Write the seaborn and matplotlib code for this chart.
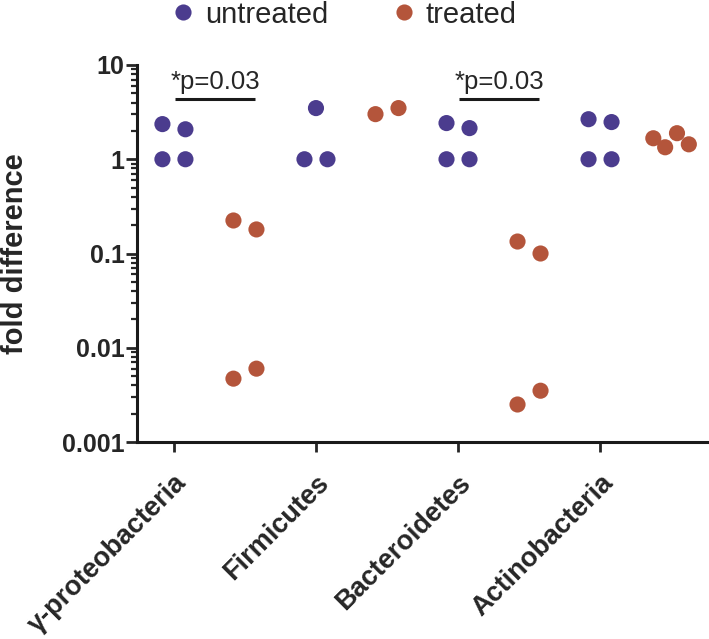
import numpy as np
import pandas as pd
import matplotlib
matplotlib.use('Agg')
import matplotlib.pyplot as plt
import matplotlib.transforms as mtransforms
import seaborn as sns
from matplotlib.ticker import LogLocator, NullFormatter, FixedLocator

# --- data ---
phyla = ['γ-proteobacteria', 'Firmicutes', 'Bacteroidetes', 'Actinobacteria']
groups = ['untreated', 'treated']

# fold difference per phylum, listed in the left-to-right order of the dots
untreated = [
    [2.36, 2.08, 1.0, 1.0],
    [1.0, 1.0, 3.49],
    [2.42, 2.14, 1.0, 1.0],
    [2.66, 2.48, 1.0, 1.0],
]
treated = [
    [0.224, 0.18, 0.0047, 0.006],
    [3.01, 3.49],
    [0.134, 0.10, 0.0025, 0.0035],
    [1.67, 1.34, 1.89, 1.44],
]
p_labels = ['*p=0.03', '', '*p=0.03', '']

y_ticks = [0.001, 0.01, 0.1, 1, 10]
y_tick_labels = ['0.001', '0.01', '0.1', '1', '10']

palette = {'untreated': '#4b3c8e', 'treated': '#b4553b'}


def spread(values, step=0.162, width=0.25, gap=0.2):
    """Dots closer than about one dot height share a row and sit side by side."""
    logs = np.log10(values)
    rows, cur = [], [0]
    for i in range(1, len(values)):
        if abs(logs[i] - logs[i - 1]) < gap:
            cur.append(i)
        else:
            rows.append(cur)
            cur = [i]
    rows.append(cur)
    offs = np.zeros(len(values))
    for r in rows:
        n = len(r)
        st = step if n < 3 else min(step, width / (n - 1))
        for k, idx in enumerate(r):
            offs[idx] = (k - (n - 1) / 2) * st
    return offs


records = []
for i, name in enumerate(phyla):
    for shift, group, vals in ((0.0, 'untreated', untreated[i]), (0.5, 'treated', treated[i])):
        for off, v in zip(spread(vals), vals):
            records.append({'phylum': name, 'group': group, 'pos': i + shift + off, 'fold': v})
df = pd.DataFrame(records)

sns.set_style('ticks')
plt.rcParams['font.family'] = ['Liberation Sans', 'DejaVu Sans']

fig = plt.figure(figsize=(7.09, 6.39), dpi=100)
ax = fig.add_axes([137 / 709, 1 - 442 / 639, (708 - 137) / 709, (442 - 65) / 639])

sns.scatterplot(data=df, x='pos', y='fold', hue='group', hue_order=groups,
                palette=palette, s=135, linewidth=0, ax=ax, clip_on=False)

ax.set_yscale('log')
ax.set_ylim(0.001, 10)
ax.set_xlim(-0.26, 3.76)

ax.yaxis.set_major_locator(FixedLocator(y_ticks))
ax.set_yticklabels(y_tick_labels, fontsize=18, fontweight='bold')
ax.yaxis.set_minor_locator(LogLocator(base=10, subs=np.arange(2, 10)))
ax.yaxis.set_minor_formatter(NullFormatter())

ax.set_xticks(range(len(phyla)))
ax.set_xticklabels(phyla, rotation=45, ha='right', rotation_mode='anchor',
                   fontsize=19.5, fontweight='bold')
# nudge the slanted labels a little to the left, as in the original
shift = mtransforms.ScaledTranslation(-7 / 100, 0, fig.dpi_scale_trans)
for lab in ax.get_xticklabels():
    lab.set_transform(lab.get_transform() + shift)

ax.tick_params(axis='y', which='major', length=8, width=2, pad=1)
ax.tick_params(axis='y', which='minor', length=4.5, width=1.6)
ax.tick_params(axis='x', which='major', length=7, width=2, pad=13)

for side in ['top', 'right']:
    ax.spines[side].set_visible(False)
for side in ['left', 'bottom']:
    ax.spines[side].set_linewidth(2.2)
    ax.spines[side].set_color('#1a1a1a')

ax.set_xlabel('')
ax.set_ylabel('fold difference', fontsize=21, fontweight='bold')
ax.yaxis.set_label_coords(-0.19, 0.5)

# significance bars
for i, lab in enumerate(p_labels):
    if not lab:
        continue
    ax.plot([i + 0.01, i + 0.57], [4.35, 4.35], color='#1a1a1a', lw=2.2,
            solid_capstyle='butt', clip_on=False)
    ax.text(i + 0.29, 5.5, lab, ha='center', va='baseline', fontsize=18.5)

handles, labels = ax.get_legend_handles_labels()
ax.get_legend().remove()
fig.legend(handles, labels, loc='upper center', bbox_to_anchor=(0.485, 1.04),
           ncol=2, frameon=False, fontsize=21, handlelength=0.8,
           handletextpad=0.35, columnspacing=2.2, markerscale=1.0)

fig.savefig('out.png', dpi=100)
